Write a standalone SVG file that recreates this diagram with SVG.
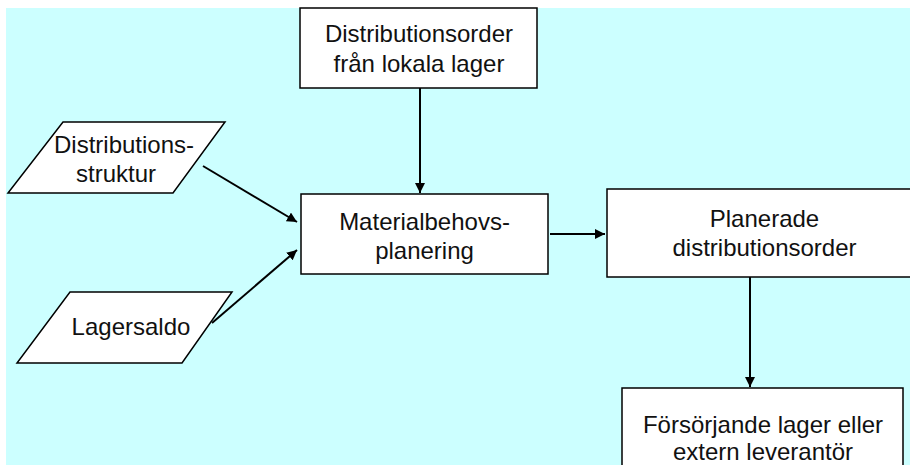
<svg xmlns="http://www.w3.org/2000/svg" width="910" height="465" viewBox="0 0 910 465">
<defs>
<marker id="ah" viewBox="0 0 10 10" refX="10" refY="5" markerWidth="5" markerHeight="5" markerUnits="strokeWidth" orient="auto">
<path d="M0,0 L10,5 L0,10 Z" fill="#000"/>
</marker>
</defs>
<style>
.box{fill:#fff;stroke:#000;stroke-width:1.5}
.t{font-family:"Liberation Sans",Arial,sans-serif;font-size:24px;fill:#111;text-anchor:middle}
.c{stroke:#000;stroke-width:2;fill:none;marker-end:url(#ah)}
</style>
<rect x="6" y="8" width="904" height="457" fill="#CCFFFF"/>
<g id="n-top">
<rect class="box" x="300" y="8" width="237" height="80"/>
<text class="t" x="419" y="42">Distributionsorder</text>
<text class="t" x="419" y="72">från lokala lager</text>
</g>
<g id="n-struktur">
<polygon class="box" points="63,122 225,122 173,193 8,193"/>
<text class="t" x="124" y="153">Distributions-</text>
<text class="t" x="116" y="182">struktur</text>
</g>
<g id="n-lagersaldo">
<polygon class="box" points="70,292 232,292 182,363 17,363"/>
<text class="t" x="131" y="335">Lagersaldo</text>
</g>
<g id="n-mbp">
<rect class="box" x="301" y="194" width="247" height="80"/>
<text class="t" x="424.5" y="230">Materialbehovs-</text>
<text class="t" x="424.5" y="259">planering</text>
</g>
<g id="n-planerade">
<rect class="box" x="607" y="189" width="315" height="88"/>
<text class="t" x="764.5" y="227">Planerade</text>
<text class="t" x="764.5" y="256">distributionsorder</text>
</g>
<g id="n-forsorjande">
<rect class="box" x="622" y="388" width="281" height="90"/>
<text class="t" x="763" y="433">Försörjande lager eller</text>
<text class="t" x="763" y="460">extern leverantör</text>
</g>
<g id="connectors">
<line class="c" x1="420" y1="88" x2="420" y2="193"/>
<line class="c" x1="203" y1="166" x2="297" y2="222"/>
<line class="c" x1="212" y1="323" x2="297" y2="250"/>
<line class="c" x1="550" y1="234" x2="605" y2="234"/>
<line class="c" x1="750" y1="277" x2="750" y2="387"/>
</g>
</svg>
